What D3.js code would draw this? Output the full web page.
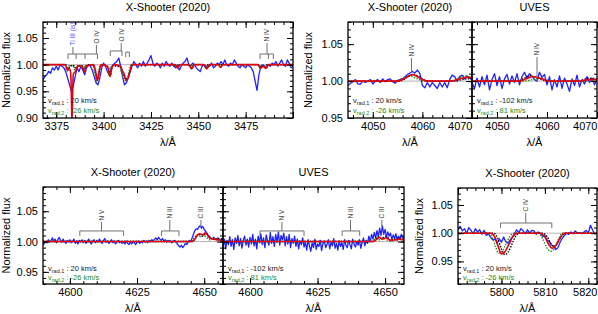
<!DOCTYPE html>
<html>
<head>
<meta charset="utf-8">
<script src="https://cdn.jsdelivr.net/npm/d3@7"></script>
<style>
body { margin: 0; background: #fff; }
svg text { font-family: "Liberation Sans", Arial, Helvetica, sans-serif; }
</style>
</head>
<body>
<svg id="chart" width="598" height="314"></svg>
<script>
// ---- data ----

// top left: X-Shooter (2020), observed spectrum sampled every 1 A from 3368 A
var wave1Start = 3368, wave1Step = 1;
var flux1 = [
  0.972, 0.978, 0.981, 0.9875, 0.984, 0.994, 0.99, 0.997, 0.99, 1.0,
  0.997, 0.994, 0.987, 0.975, 0.962, 0.95, 0.96, 0.978, 0.994, 0.987,
  0.997, 0.99, 0.981, 0.994, 1.0, 0.997, 0.99, 0.978, 0.966, 0.962,
  0.975, 0.994, 1.003, 0.997, 0.987, 0.981, 0.994, 1.0, 1.003, 1.006,
  1.0125, 0.997, 0.978, 0.962, 0.966, 0.975, 0.987, 0.997, 1.006, 1.0,
  0.994, 1.003, 0.997, 1.006, 0.997, 1.003, 1.009, 1.017, 1.003, 0.997,
  1.003, 1.0, 0.994, 1.003, 0.997, 1.006, 1.0, 0.997, 1.003, 0.997,
  0.994, 1.0, 0.99, 0.997, 1.003, 1.006, 1.0125, 1.0, 0.997, 1.003,
  1.0, 0.994, 0.99, 0.987, 0.997, 1.0, 0.994, 1.0, 0.997, 1.003,
  0.994, 0.997, 1.003, 1.0, 1.006, 1.0, 1.009, 1.0, 0.997, 1.003,
  1.0, 1.009, 1.003, 0.997, 0.994, 1.0, 0.997, 0.994, 1.0, 0.997,
  0.994, 0.987, 0.969, 0.952, 0.981, 0.997, 1.0, 0.997, 0.994, 1.0,
  0.997, 1.003, 1.0, 1.006, 0.997, 1.003, 1.009, 1.0, 0.997, 1.009,
  1.003, 0.994, 0.997
];
var red1 = [[3368,1.0],[3379.8,1.0],[3380.8,0.99],[3381.8,0.993],[3382.6,0.985],[3383.0,0.94],[3383.3,0.89],[3383.6,0.94],[3384.0,0.982],[3385.3,0.988],[3386.3,0.998],[3388.8,0.997],[3389.8,0.986],[3390.8,0.997],[3394.5,1.0],[3395.6,0.99],[3396.7,0.97],[3397.8,0.99],[3398.8,1.0],[3402.2,0.996],[3403.4,0.978],[3404.6,0.997],[3406,1.0],[3408.8,0.997],[3409.8,0.988],[3410.8,0.983],[3411.8,0.971],[3412.8,0.974],[3413.8,0.986],[3415,1.0],[3437.5,1.0],[3439,0.994],[3440.5,1.0],[3445,1.0],[3446.5,0.992],[3448,1.0],[3453,1.0],[3454.5,0.992],[3456,1.0],[3460.5,1.0],[3461.8,0.995],[3463,1.0],[3481.5,1.0],[3482.8,0.993],[3484.2,0.997],[3485.6,0.993],[3487,1.0],[3500,1.0]];
var black1 = [[3368,1.0],[3380,1.0],[3381.2,0.99],[3382.3,0.998],[3384.5,0.998],[3385.5,0.99],[3386.5,0.998],[3388.5,0.998],[3389.5,0.988],[3390.8,0.998],[3394.5,1.0],[3395.5,0.99],[3396.8,0.972],[3398,0.992],[3399,1.0],[3402.5,0.996],[3403.5,0.98],[3404.8,0.998],[3409,0.996],[3410,0.988],[3411.7,0.973],[3413,0.976],[3414,0.988],[3415,1.0],[3437.5,1.0],[3439,0.995],[3440.5,1.0],[3445,1.0],[3446.5,0.993],[3448,1.0],[3453,1.0],[3454.5,0.993],[3456,1.0],[3482,1.0],[3483,0.994],[3484.2,0.998],[3485.2,0.994],[3486.5,1.0],[3500,1.0]];
var green1 = [[3368,1.0],[3379.5,1.0],[3380.7,0.988],[3381.8,0.998],[3384,0.998],[3385,0.985],[3386,0.998],[3388,0.998],[3389,0.99],[3390.3,0.998],[3394,1.0],[3395,0.99],[3396.3,0.968],[3397.5,0.99],[3398.5,1.0],[3402,0.996],[3403,0.978],[3404.3,0.998],[3408.5,0.996],[3409.5,0.985],[3411.2,0.97],[3412.5,0.974],[3413.5,0.988],[3414.5,1.0],[3437,1.0],[3438.5,0.995],[3440,1.0],[3444.5,1.0],[3446,0.994],[3447.5,1.0],[3452.5,1.0],[3454,0.994],[3455.5,1.0],[3481.5,1.0],[3482.5,0.995],[3483.7,0.998],[3484.7,0.995],[3486,1.0],[3500,1.0]];

// top middle: X-Shooter (2020), every 0.5 A from 4045 A
var wave2Start = 4045, wave2Step = 0.5;
var flux2 = [
  0.994, 0.997, 0.999, 1.002, 0.996, 0.996, 1.0, 0.998, 1.0, 1.002,
  0.996, 1.0, 1.002, 0.998, 1.003, 0.999, 1.002, 1.003, 0.999, 0.997,
  1.001, 1.002, 1.003, 1.006, 1.009, 1.011, 1.013, 1.011, 1.015, 1.010,
  0.994, 0.991, 0.998, 0.992, 0.998, 0.994, 0.99, 0.998, 0.992, 0.998,
  0.991, 1.002, 1.008, 1.006, 1.0, 1.006, 1.008, 1.003, 1.007, 1.004,
  1.002
];
var red2 = [[4045,1.0],[4055,1.0],[4056.5,1.004],[4058,1.009],[4059.5,1.004],[4061,1.0],[4066,1.0],[4067.5,1.003],[4069,1.005],[4070,1.005]];
var black2 = [[4045,1.0],[4055.5,1.0],[4057,1.005],[4058.3,1.009],[4059.8,1.004],[4061.2,1.0],[4066.5,1.0],[4068,1.002],[4070,1.004]];
var green2 = [[4045,1.0],[4054.8,1.0],[4056.3,1.005],[4057.5,1.007],[4059,1.003],[4060.5,1.0],[4065.5,1.0],[4067,1.003],[4068.5,1.007],[4070,1.004]];

// top right: UVES, every 0.5 A from 4045 A
var wave3Start = 4045, wave3Step = 0.5;
var flux3 = [
  0.998, 0.99, 1.004, 0.992, 1.006, 0.995, 1.008, 0.988, 1.002, 1.01,
  0.994, 1.006, 0.99, 1.003, 1.009, 0.996, 1.007, 0.998, 1.01, 0.995,
  1.006, 1.012, 1.004, 1.01, 1.006, 1.002, 1.0, 1.012, 1.005, 1.009,
  0.995, 1.006, 0.988, 1.002, 0.992, 1.007, 0.99, 1.004, 0.996, 0.986,
  1.003, 0.994, 1.008, 0.992, 1.002, 0.996, 1.006, 0.998, 1.004, 0.995,
  1.002
];
var red3 = [[4045,1.0],[4054.5,1.0],[4055.8,1.003],[4057,1.006],[4058,1.005],[4059,1.003],[4060.3,1.0],[4066.5,1.0],[4068.5,1.002],[4070,1.002]];
var black3 = [[4045,1.0],[4054.2,1.0],[4055.5,1.004],[4056.6,1.007],[4057.8,1.005],[4059,1.002],[4060,1.0],[4066.5,1.0],[4068.3,1.004],[4070,1.003]];
var green3 = [[4045,1.0],[4055.5,1.0],[4057,1.002],[4058.5,1.004],[4060,1.002],[4061,1.0],[4070,1.0]];

// bottom left: X-Shooter (2020), every 0.5 A from 4590 A
var wave4Start = 4590, wave4Step = 0.5;
var flux4 = [
  0.994, 0.997, 1.0, 0.998, 1.003, 0.999, 1.002, 1.006, 1.001, 1.004, 0.998, 1.003, 1.007, 1.002, 0.999, 1.004, 1.0, 0.997, 1.002, 0.999,
  1.003, 0.998, 1.0, 1.004, 0.997, 1.001, 0.996, 1.002, 0.999, 1.003, 0.998, 1.002, 0.997, 1.0, 1.004, 0.999, 0.996, 1.001, 1.003, 0.998,
  1.002, 0.999, 1.004, 1.0, 0.997, 1.002, 1.005, 0.999, 1.001, 0.997, 1.0, 1.003, 0.998, 1.001, 0.996, 0.999, 1.002, 0.998, 1.0, 0.997,
  0.999, 0.996, 1.001, 0.997, 0.995, 0.999, 0.996, 1.0, 0.998, 0.995, 0.999, 1.001, 0.997, 1.0, 0.998, 1.002, 0.999, 1.001, 0.998, 1.002,
  1.0, 1.003, 1.001, 1.004, 1.006, 1.003, 1.007, 1.004, 1.002, 1.005, 1.001, 1.003, 0.999, 1.002, 1.0, 1.001, 0.998, 1.0, 1.002, 0.999,
  0.996, 0.993, 0.991, 0.994, 0.99, 0.993, 0.997, 0.995, 0.999, 1.002, 1.0, 1.006, 1.012, 1.018,
  1.021, 1.02, 1.024, 1.026, 1.022, 1.025, 1.02, 1.017, 1.014, 1.01, 1.008, 1.006, 1.004, 1.007, 1.005, 1.003, 1.006, 1.004, 1.002, 1.005, 1.003
];
var red4 = [[4590,1.0],[4645.5,1.0],[4646.5,1.004],[4647.5,1.011],[4648.5,1.013],[4649.5,1.011],[4650.3,1.014],[4651,1.012],[4652,1.006],[4653.5,1.004],[4655,1.003],[4657,1.001]];
var black4 = [[4590,1.0],[4645.8,1.0],[4646.8,1.006],[4648,1.012],[4649.3,1.009],[4650.6,1.013],[4651.5,1.01],[4652.5,1.005],[4654,1.004],[4655.5,1.005],[4657,1.002]];
var green4 = [[4590,1.0],[4645,1.0],[4646,1.005],[4647.5,1.011],[4648.7,1.008],[4649.8,1.01],[4650.8,1.007],[4652,1.003],[4653.5,1.005],[4655,1.003],[4657,1.001]];

// bottom middle: UVES, every 0.5 A from 4590 A
var wave5Start = 4590, wave5Step = 0.5;
var flux5 = [
  0.99, 1.004, 0.988, 1.002, 0.995, 1.008, 0.992, 1.003, 0.987, 1.006, 0.997, 1.01, 0.993, 1.005, 0.989, 1.002, 1.009, 0.994, 1.004, 0.991,
  1.007, 0.996, 1.012, 0.993, 1.004, 0.988, 1.009, 0.998, 1.013, 0.995, 1.006, 0.99, 1.011, 1.001, 0.994, 1.015, 0.997, 1.008, 0.992, 1.012,
  0.999, 1.016, 0.994, 1.01, 1.003, 1.014, 0.993, 1.008, 0.996, 1.012, 0.99, 1.005, 0.997, 1.009, 0.992, 1.004, 0.988, 1.001, 0.995, 1.006,
  0.991, 0.999, 0.986, 1.003, 0.993, 0.984, 0.998, 0.99, 1.004, 0.987, 0.996, 0.992, 1.002, 0.985, 0.997, 1.001, 0.99, 0.995, 1.003, 0.988,
  0.999, 0.993, 1.005, 0.989, 0.997, 0.986, 1.001, 0.992, 0.998, 0.987, 1.003, 0.994, 0.99, 1.002, 0.995, 0.988, 1.004, 0.996, 0.991, 1.0,
  0.994, 1.003, 0.989, 0.998, 1.006, 0.993, 1.002, 0.997, 1.009, 1.0, 1.012, 1.004, 1.015, 1.006,
  1.018, 1.008, 1.022, 1.01, 1.026, 1.012, 1.02, 1.007, 1.016, 1.009, 1.014, 1.003, 1.011, 1.005, 1.013, 1.002, 1.009, 1.004, 1.012, 1.006, 1.008
];
var red5 = [[4590,1.0],[4645.5,1.0],[4647,1.004],[4648,1.007],[4649,1.004],[4650.2,1.006],[4651,1.005],[4652,1.002],[4654,1.003],[4655.5,1.004],[4657,1.002]];
var black5 = [[4590,1.0],[4645.5,1.0],[4647.3,1.008],[4648.5,1.005],[4650.5,1.009],[4652,1.002],[4653.5,1.004],[4655,1.006],[4657,1.003]];
var green5 = [[4590,1.0],[4645,1.0],[4646.5,1.005],[4648,1.003],[4649.5,1.005],[4651,1.002],[4652.5,1.001],[4654,1.004],[4657,1.002]];

// bottom right: X-Shooter (2020), every 0.5 A from 5790 A
var wave6Start = 5790, wave6Step = 0.5;
var flux6 = [
  1.006, 1.012, 1.004, 1.008, 1.0, 1.01, 1.005, 0.999, 1.008, 1.002,
  1.006, 0.998, 1.005, 0.996, 0.999, 0.993, 0.988, 0.99, 0.982, 0.99,
  0.984, 0.993, 0.985, 0.982, 0.988, 0.993, 0.999, 1.006, 1.001, 1.008,
  1.004, 0.999, 1.006, 1.0, 1.005, 1.004, 0.998, 1.002, 0.999, 0.994,
  0.996, 0.988, 0.985, 0.979, 0.977, 0.971, 0.974, 0.984, 0.991, 0.996,
  1.0, 0.998, 1.002, 0.999, 1.004, 1.0, 1.001, 0.999, 1.002, 1.005,
  1.0, 1.014, 1.005, 0.999, 1.001
];
var red6 = [[5790,1.0],[5797.5,1.0],[5798.5,0.993],[5799.2,0.978],[5800,0.963],[5800.8,0.967],[5801.7,0.98],[5802.7,0.995],[5803.5,1.0],[5809,1.0],[5810,0.993],[5810.9,0.98],[5811.7,0.973],[5812.5,0.978],[5813.5,0.992],[5814.5,1.0],[5822,1.0]];
var black6 = [[5790,1.0],[5798.2,1.0],[5799.2,0.99],[5800,0.972],[5800.8,0.962],[5801.6,0.967],[5802.5,0.982],[5803.5,0.997],[5804.3,1.0],[5809.5,1.0],[5810.5,0.994],[5811.3,0.983],[5812,0.977],[5812.8,0.981],[5813.8,0.994],[5814.8,1.0],[5822,1.0]];
var green6 = [[5790,1.0],[5797,1.0],[5798,0.99],[5798.7,0.975],[5799.3,0.965],[5800.2,0.968],[5801,0.98],[5802,0.995],[5803,1.0],[5808.5,1.0],[5809.5,0.99],[5810.4,0.975],[5811.3,0.968],[5812.2,0.972],[5813.2,0.99],[5814,1.0],[5822,1.0]];

// line identifications
var ids1 = [
  {label: "Ti III (is)", at: 3383.8, lines: [], is: true},
  {label: "O IV", at: 3396.2, lines: [3381.2, 3385.5, 3390.2, 3396.8]},
  {label: "O IV", at: 3409.3, lines: [3403.5, 3409.7]},
  {label: "", at: 3412.6, lines: [3411.7, 3413.6]},
  {label: "N IV", at: 3486.3, lines: [3482.6, 3487, 3489.6]}
];
var ids2 = [{label: "N IV", at: 4057.8, lines: []}];
var ids3 = [{label: "N IV", at: 4058, lines: []}];
var ids4 = [
  {label: "N V", at: 4611.8, lines: [4603.7, 4620.0]},
  {label: "N III", at: 4637.2, lines: [4634.1, 4640.6]},
  {label: "C III", at: 4648.8, lines: []}
];
var ids6 = [{label: "C IV", at: 5805.6, lines: [5799.8, 5811.6]}];

// radial velocities
var vradXs = ["20 km/s", "-26 km/s"];
var vradUves = ["-102 km/s", " 81 km/s"];

// tick labels
var xTicks1 = [3375, 3400, 3425, 3450, 3475];
var xTicks2 = [4050, 4060, 4070];
var xTicks4 = [4600, 4625, 4650];
var xTicks6 = [5800, 5810, 5820];
var yTicks1 = [0.90, 0.95, 1.00, 1.05];
var yTicks2 = [0.95, 1.00, 1.05];
var titles = ["X-Shooter (2020)", "X-Shooter (2020)", "UVES", "X-Shooter (2020)", "UVES", "X-Shooter (2020)"];

// ---- layout ----
var FONT = 11;
var cObs = "#1f22ff", cRed = "#e3000f", cGreen = "#1e8c1e", cBlack = "#000";
var svg = d3.select("#chart");

var panels = [
  {n: 1, l: 43, r: 293, t: 22, b: 118, xd: [3368, 3500], yd: [0.90, 1.08], xMaj: 25, xMin: 5,
   xLab: xTicks1, yLab: yTicks1, showY: true, ylabX: 10,
   obs: [wave1Start, wave1Step, flux1], red: red1, black: black1, green: green1,
   ids: ids1, idPos: [[1.020, 7], [1.020, 9], [1.0256, 8], [1.0235, 0], [1.020, 11]], vr: vradXs, vrY: [-15, -5]},
  {n: 2, l: 348, r: 472, t: 22, b: 118, xd: [4045, 4070], yd: [0.95, 1.08], xMaj: 10, xMin: 2,
   xLab: xTicks2, yLab: yTicks2, showY: true, ylabX: 312,
   obs: [wave2Start, wave2Step, flux2], red: red2, black: black2, green: green2,
   ids: ids2, idPos: [[1.0123, 14]], vr: vradXs, vrY: [-15, -5]},
  {n: 3, l: 472, r: 597, t: 22, b: 118, xd: [4045, 4070], yd: [0.95, 1.08], xMaj: 10, xMin: 2,
   xLab: xTicks2, yLab: yTicks2, showY: false,
   obs: [wave3Start, wave3Step, flux3], red: red3, black: black3, green: green3,
   ids: ids3, idPos: [[1.0, 24]], vr: vradUves, vrY: [-15, -5]},
  {n: 4, l: 43, r: 223, t: 187, b: 284, xd: [4590, 4657], yd: [0.93, 1.09], xMaj: 25, xMin: 5,
   xLab: xTicks4, yLab: yTicks2, showY: true, ylabX: 10,
   obs: [wave4Start, wave4Step, flux4], red: red4, black: black4, green: green4,
   ids: ids4, idPos: [[1.0175, 9], [1.0175, 11], [1.024, 7]], vr: vradXs, vrY: [-13, -4]},
  {n: 5, l: 223, r: 404, t: 187, b: 284, xd: [4590, 4657], yd: [0.93, 1.09], xMaj: 25, xMin: 5,
   xLab: xTicks4, yLab: yTicks2, showY: false,
   obs: [wave5Start, wave5Step, flux5], red: red5, black: black5, green: green5,
   ids: ids4, idPos: [[1.0175, 9], [1.0175, 11], [1.024, 7]], vr: vradUves, vrY: [-13, -4]},
  {n: 6, l: 458, r: 597, t: 188, b: 284, xd: [5790, 5822], yd: [0.91, 1.08], xMaj: 10, xMin: 2,
   xLab: xTicks6, yLab: yTicks2, showY: true, ylabX: 423,
   obs: [wave6Start, wave6Step, flux6], red: red6, black: black6, green: green6,
   ids: ids6, idPos: [[1.018, 10]], vr: vradXs, vrY: [-13, -4]}
];

function stepValues(d, step) {
  var s = Math.ceil(d[0] / step - 1e-9) * step;
  return d3.range(s, d[1] + step * 1e-6, step).map(function(v) { return +v.toFixed(4); });
}

function styleAxis(a) {
  a.select(".domain").remove();
  a.selectAll("line").attr("stroke", "#000").attr("stroke-width", 1);
  a.selectAll("text").attr("font-size", FONT).attr("fill", "#000")
    .attr("font-family", "Liberation Sans, Arial, sans-serif");
  return a;
}

function drawPanel(p, idx) {
  var x = d3.scaleLinear().domain(p.xd).range([p.l, p.r]);
  var y = d3.scaleLinear().domain(p.yd).range([p.b, p.t]);
  var g = svg.append("g");

  svg.append("clipPath").attr("id", "clip" + p.n).append("rect")
    .attr("x", p.l).attr("y", p.t).attr("width", p.r - p.l).attr("height", p.b - p.t);
  var plot = g.append("g").attr("clip-path", "url(#clip" + p.n + ")");

  // continuum
  plot.append("line").attr("x1", p.l).attr("x2", p.r).attr("y1", y(1)).attr("y2", y(1))
    .attr("stroke", "#b4b4b4").attr("stroke-width", 1);

  // observation
  var w0 = p.obs[0], dw = p.obs[1];
  var obsLine = d3.line().x(function(d, i) { return x(w0 + i * dw); }).y(function(d) { return y(d); });
  plot.append("path").datum(p.obs[2]).attr("d", obsLine)
    .attr("fill", "none").attr("stroke", cObs).attr("stroke-width", 1.3).attr("stroke-linejoin", "round");

  // models
  var modLine = d3.line().x(function(d) { return x(d[0]); }).y(function(d) { return y(d[1]); })
    .curve(d3.curveMonotoneX);
  plot.append("path").datum(p.green).attr("d", modLine).attr("fill", "none")
    .attr("stroke", cGreen).attr("stroke-width", 1.4).attr("stroke-dasharray", "1.4,1.4");
  plot.append("path").datum(p.black).attr("d", modLine).attr("fill", "none")
    .attr("stroke", cBlack).attr("stroke-width", 1.4).attr("stroke-dasharray", "1.4,1.4");
  plot.append("path").datum(p.red).attr("d", modLine).attr("fill", "none")
    .attr("stroke", cRed).attr("stroke-width", 1.6);

  // line ids
  var idg = g.append("g");
  p.ids.forEach(function(d, i) {
    var barY = y(p.idPos[i][0]), stem = p.idPos[i][1];
    if (d.lines.length > 1) {
      idg.append("line").attr("x1", x(d3.min(d.lines))).attr("x2", x(d3.max(d.lines)))
        .attr("y1", barY).attr("y2", barY).attr("stroke", "#707070").attr("stroke-width", 1);
      d.lines.forEach(function(l) {
        idg.append("line").attr("x1", x(l)).attr("x2", x(l)).attr("y1", barY).attr("y2", barY + 5)
          .attr("stroke", "#707070").attr("stroke-width", 1);
      });
    }
    if (d.label) {
      var lx = x(d.at);
      idg.append("line").attr("x1", lx).attr("x2", lx).attr("y1", barY).attr("y2", barY - stem)
        .attr("stroke", "#707070").attr("stroke-width", 1);
      idg.append("text")
        .attr("transform", "translate(" + (lx + 2.3) + "," + (barY - stem - 1.5) + ") rotate(-90)")
        .attr("font-size", 6.5).attr("fill", d.is ? "#4a4aff" : "#444").text(d.label);
    }
  });

  // axes: inward ticks on all sides
  var xMajor = stepValues(p.xd, p.xMaj), xMinor = stepValues(p.xd, p.xMin);
  var yMajor = stepValues(p.yd, 0.05), yMinor = stepValues(p.yd, 0.01);

  var bot = styleAxis(g.append("g").attr("transform", "translate(0," + p.b + ")")
    .call(d3.axisBottom(x).tickValues(xMajor).tickSize(-6).tickPadding(4)
      .tickFormat(function(v) { return p.xLab.indexOf(v) >= 0 ? v : ""; })));
  bot.selectAll(".tick text").each(function(v) {
    if (x(v) + 12 > p.r + 1) d3.select(this).attr("text-anchor", "end").attr("x", p.r - x(v));
  });
  styleAxis(g.append("g").attr("transform", "translate(0," + p.b + ")")
    .call(d3.axisBottom(x).tickValues(xMinor).tickSize(-3).tickFormat("")));
  styleAxis(g.append("g").attr("transform", "translate(0," + p.t + ")")
    .call(d3.axisTop(x).tickValues(xMajor).tickSize(-6).tickFormat("")));
  styleAxis(g.append("g").attr("transform", "translate(0," + p.t + ")")
    .call(d3.axisTop(x).tickValues(xMinor).tickSize(-3).tickFormat("")));

  styleAxis(g.append("g").attr("transform", "translate(" + p.l + ",0)")
    .call(d3.axisLeft(y).tickValues(yMajor).tickSize(-6).tickPadding(5)
      .tickFormat(function(v) {
        return p.showY && p.yLab.some(function(t) { return Math.abs(t - v) < 1e-6; }) ? d3.format(".2f")(v) : "";
      })));
  styleAxis(g.append("g").attr("transform", "translate(" + p.l + ",0)")
    .call(d3.axisLeft(y).tickValues(yMinor).tickSize(-3).tickFormat("")));
  styleAxis(g.append("g").attr("transform", "translate(" + p.r + ",0)")
    .call(d3.axisRight(y).tickValues(yMajor).tickSize(-6).tickFormat("")));
  styleAxis(g.append("g").attr("transform", "translate(" + p.r + ",0)")
    .call(d3.axisRight(y).tickValues(yMinor).tickSize(-3).tickFormat("")));

  // frame
  g.append("rect").attr("x", p.l).attr("y", p.t).attr("width", p.r - p.l).attr("height", p.b - p.t)
    .attr("fill", "none").attr("stroke", "#000").attr("stroke-width", 1.3);

  // radial velocities
  [0, 1].forEach(function(k) {
    var t = g.append("text").attr("x", p.l + 5).attr("y", p.b + p.vrY[k])
      .attr("font-size", 7.5).attr("fill", k === 0 ? "#222" : cGreen);
    t.append("tspan").text("v");
    t.append("tspan").attr("font-size", 5.5).attr("dy", 2).text("rad," + (k + 1));
    t.append("tspan").attr("dy", -2).text(" :  " + p.vr[k]);
  });

  // titles and axis labels
  var cx = (p.l + p.r) / 2;
  g.append("text").attr("x", cx).attr("y", p.t - 11).attr("text-anchor", "middle")
    .attr("font-size", FONT).text(titles[idx]);
  g.append("text").attr("x", cx).attr("y", p.b + 28).attr("text-anchor", "middle")
    .attr("font-size", FONT).text("\u03bb/\u00c5");
  if (p.showY) {
    g.append("text").attr("transform", "translate(" + p.ylabX + "," + ((p.t + p.b) / 2) + ") rotate(-90)")
      .attr("text-anchor", "middle").attr("font-size", FONT).text("Normalized flux");
  }
}

panels.forEach(drawPanel);
</script>
</body>
</html>
